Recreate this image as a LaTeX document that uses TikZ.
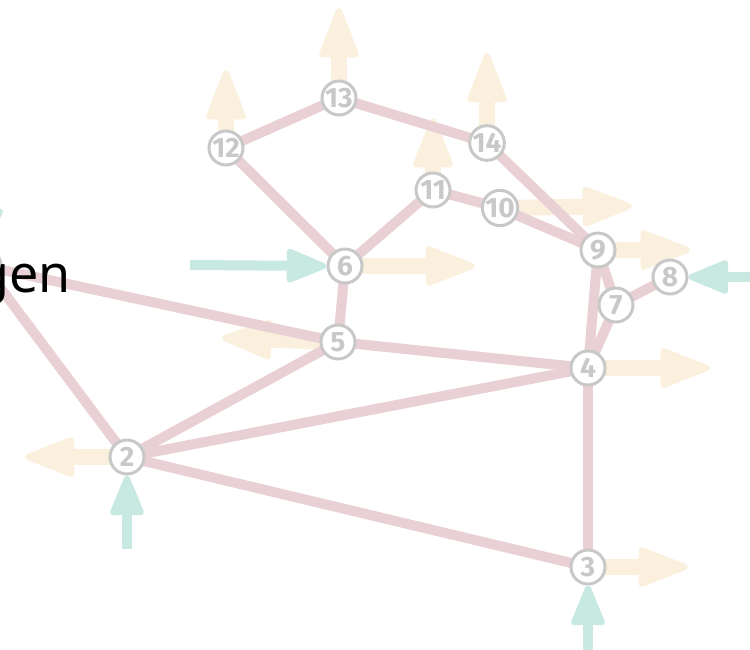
\documentclass[tikz,border=0pt]{standalone}
\usepackage{fontspec}
\setmainfont{Noto Sans}
\newfontfamily\numfont{Fira Sans}
\usetikzlibrary{arrows.meta}
\definecolor{edgepink}{RGB}{232,208,212}
\definecolor{outyel}{RGB}{250,240,221}
\definecolor{inteal}{RGB}{200,232,226}
\definecolor{nodegray}{RGB}{200,200,200}
\tikzset{
  vert/.style={circle, draw=nodegray, line width=3pt, fill=white, minimum size=34pt, inner sep=0pt,
    text=nodegray, font=\numfont\bfseries\fontsize{28}{28}\selectfont},
  conn/.style={draw=edgepink, line width=10pt},
  outarrow/.style={draw=outyel, line width=16pt, -{Triangle[length=55pt,width=41pt,round,line width=6pt]}},
  inarrow/.style={draw=inteal, line width=10pt, -{Triangle[length=45pt,width=35pt,round,line width=6pt]}},
}
\begin{document}
\begin{tikzpicture}[x=1pt,y=-1pt]
\useasboundingbox (0,0) rectangle (750,649);
% coordinates
\coordinate (p1) at (-16,266);
\coordinate (p2) at (127,457);
\coordinate (p3) at (588,567);
\coordinate (p4) at (588,368);
\coordinate (p5) at (338,342);
\coordinate (p6) at (345,266);
\coordinate (p7) at (616,305);
\coordinate (p8) at (670,277);
\coordinate (p9) at (598,250);
\coordinate (p10) at (500,208);
\coordinate (p11) at (433,190);
\coordinate (p12) at (226,148);
\coordinate (p13) at (339,98);
\coordinate (p14) at (487,143);
% output arrows
\coordinate (o2) at (25,457);
\coordinate (o3) at (688,567);
\coordinate (o4) at (710,368);
\coordinate (o5) at (222,338);
\coordinate (o6) at (475,266);
\coordinate (o9) at (690,250);
\coordinate (o10) at (632,206);
\coordinate (o11) at (433,118);
\coordinate (o12) at (226,70);
\coordinate (o13) at (339,8);
\coordinate (o14) at (487,53);
\foreach \n in {2,3,4,5,6,9,10,11,12,13,14}{
  \draw[outarrow] (p\n) -- (o\n);
}
% edges
\foreach \a/\b in {1/2,1/5,2/5,2/4,2/3,3/4,4/5,4/9,4/7,7/9,7/8,5/6,6/12,6/11,11/10,10/9,12/13,13/14,14/9}{
  \draw[conn] (p\a) -- (p\b);
}
% nodes
\node[vert] (n1) at (p1) {};
\foreach \n in {2,...,14}{
  \node[vert] (n\n) at (p\n) {\n};
}
% input arrows
\coordinate (i1) at (-10,140);
\coordinate (i2) at (127,549);
\coordinate (i3) at (588,660);
\coordinate (i6) at (190,265);
\coordinate (i8) at (760,277);
\draw[inarrow] (i1) -- (n1.north);
\draw[inarrow] (i2) -- (n2.south);
\draw[inarrow] (i3) -- (n3.south);
\draw[inarrow] (i6) -- (n6.west);
\draw[inarrow] (i8) -- (n8.east);
% label
\node[anchor=base east, inner sep=0pt, font=\fontsize{52}{52}\selectfont] (lbl) at (71,292) {gen};
\end{tikzpicture}
\end{document}
